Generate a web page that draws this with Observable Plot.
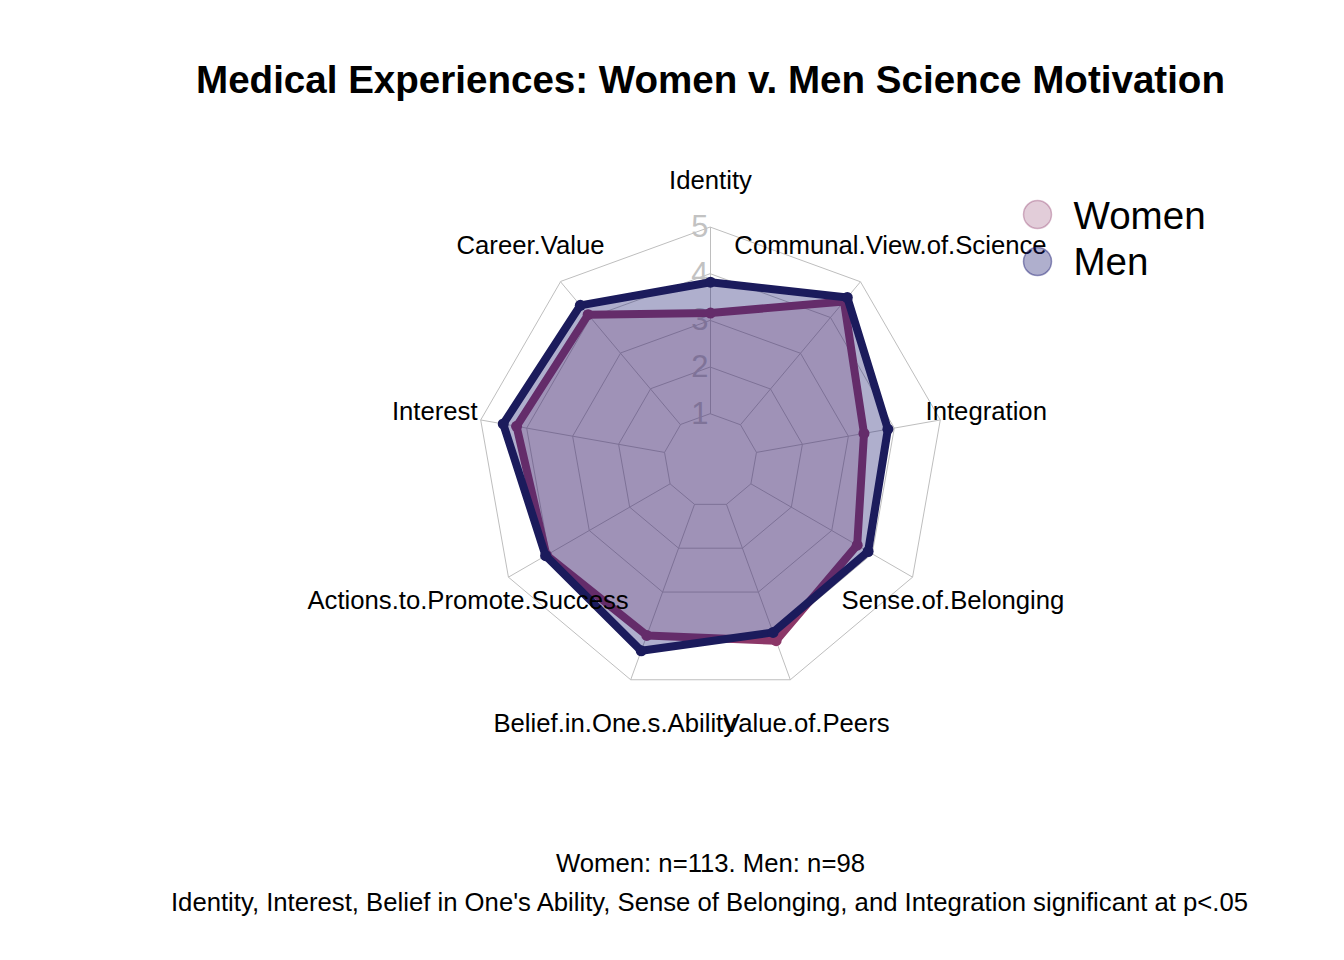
<!DOCTYPE html>
<html>
<head>
<meta charset="utf-8">
<script src="https://cdn.jsdelivr.net/npm/d3@7"></script>
<script src="https://cdn.jsdelivr.net/npm/@observablehq/plot@0.6"></script>
<style>
  body { margin: 0; background: #ffffff; }
  #chart svg { display: block; }
</style>
</head>
<body>
<div id="chart"></div>
<script>
// ---- data ----
const categories = [
  "Identity",
  "Communal.View.of.Science",
  "Integration",
  "Sense.of.Belonging",
  "Value.of.Peers",
  "Belief.in.One.s.Ability",
  "Actions.to.Promote.Success",
  "Interest",
  "Career.Value"
];
const women = [3.16, 4.45, 3.34, 3.63, 4.11, 3.99, 4.06, 4.22, 4.08];
const men   = [3.82, 4.56, 3.86, 3.90, 3.92, 4.34, 4.08, 4.51, 4.34];
const levels = [1, 2, 3, 4, 5];
const levelLabels = ["1", "2", "3", "4", "5"];
const seriesNames = ["Women", "Men"];
const titleText = "Medical Experiences: Women v. Men Science Motivation";
const captionLines = [
  "Women: n=113. Men: n=98",
  "Identity, Interest, Belief in One's Ability, Sense of Belonging, and Integration significant at p<.05"
];

// ---- layout / style ----
const W = 1344, H = 960;
const cx = 710, cy = 460;          // pixel position of radar centre
const unit = 233.33 / 5;           // pixels per value unit
const font = "'Liberation Sans', Arial, Helvetica, sans-serif";
const baseSize = 25.7;
const womenColor = "#8c3768";
const menColor = "#191970";
const menLine = "#1b1b5c";
const gridColor = "#bebebe";

const n = categories.length;
const maxLevel = d3.max(levels);
const ang = i => 2 * Math.PI * i / n;
const px = (r, i) => r * Math.sin(ang(i));
const py = (r, i) => r * Math.cos(ang(i));

const rowsOf = vals => categories.map((c, i) => ({c, i, v: vals[i], x: px(vals[i], i), y: py(vals[i], i)}));
const womenRows = rowsOf(women);
const menRows = rowsOf(men);
const gridRows = levels.flatMap(l => categories.map((c, i) => ({level: l, x: px(l, i), y: py(l, i)})));
const spokes = categories.map((c, i) => ({x1: px(levels[0], i), y1: py(levels[0], i), x2: px(maxLevel, i), y2: py(maxLevel, i)}));
const catLabels = categories.map((c, i) => ({c, x: px(maxLevel * 1.2, i), y: py(maxLevel * 1.2, i)}));
const levelRows = levels.map((l, k) => ({l, label: levelLabels[k]}));

const chart = Plot.plot({
  width: W,
  height: H,
  margin: 0,
  x: {domain: [-cx / unit, (W - cx) / unit], axis: null},
  y: {domain: [-(H - cy) / unit, cy / unit], axis: null},
  style: {fontFamily: font, background: "#ffffff", color: "#000000"},
  marks: [
    // grid
    Plot.line(gridRows, {x: "x", y: "y", z: "level", curve: "linear-closed", stroke: gridColor, strokeWidth: 1}),
    Plot.link(spokes, {x1: "x1", y1: "y1", x2: "x2", y2: "y2", stroke: gridColor, strokeWidth: 1}),
    // level labels
    Plot.text(levelRows, {x: () => 0, y: "l", text: "label", textAnchor: "end", lineAnchor: "middle", dx: -2, fontSize: baseSize * 1.2, fill: "#c2c2c2"}),
    // women series
    Plot.line(womenRows, {x: "x", y: "y", curve: "linear-closed", fill: womenColor, fillOpacity: 0.22, stroke: womenColor, strokeWidth: 8, strokeLinejoin: "round"}),
    Plot.dot(womenRows, {x: "x", y: "y", r: 5.5, fill: womenColor}),
    // men series
    Plot.line(menRows, {x: "x", y: "y", curve: "linear-closed", fill: menColor, fillOpacity: 0.35, stroke: menLine, strokeWidth: 8, strokeLinejoin: "round"}),
    Plot.dot(menRows, {x: "x", y: "y", r: 5.5, fill: menLine}),
    // category labels
    Plot.text(catLabels, {x: "x", y: "y", text: "c", textAnchor: "middle", lineAnchor: "middle", fontSize: baseSize, fill: "#000000"}),
    // legend
    Plot.dot([seriesNames[0]], {frameAnchor: "top-left", dx: 1037, dy: 214, r: 14, fill: womenColor, fillOpacity: 0.25, stroke: womenColor, strokeOpacity: 0.35, strokeWidth: 1.5}),
    Plot.dot([seriesNames[1]], {frameAnchor: "top-left", dx: 1037, dy: 261, r: 14, fill: menColor, fillOpacity: 0.35, stroke: menColor, strokeOpacity: 0.45, strokeWidth: 1.5}),
    Plot.text([seriesNames[0]], {frameAnchor: "top-left", dx: 1073, dy: 216, text: d => d, textAnchor: "start", lineAnchor: "middle", fontSize: baseSize * 1.5, fill: "#000000"}),
    Plot.text([seriesNames[1]], {frameAnchor: "top-left", dx: 1073, dy: 262, text: d => d, textAnchor: "start", lineAnchor: "middle", fontSize: baseSize * 1.5, fill: "#000000"}),
    // title
    Plot.text([titleText], {frameAnchor: "top-left", dx: 710, dy: 80, text: d => d, textAnchor: "middle", lineAnchor: "middle", fontSize: baseSize * 1.5, fontWeight: "bold", fill: "#000000"}),
    // caption
    Plot.text([captionLines[0]], {frameAnchor: "top-left", dx: 710, dy: 863, text: d => d, textAnchor: "middle", lineAnchor: "middle", fontSize: baseSize, fill: "#000000"}),
    Plot.text([captionLines[1]], {frameAnchor: "top-left", dx: 709, dy: 902, text: d => d, textAnchor: "middle", lineAnchor: "middle", fontSize: baseSize, fill: "#000000"})
  ]
});
document.getElementById("chart").appendChild(chart);
</script>
</body>
</html>
